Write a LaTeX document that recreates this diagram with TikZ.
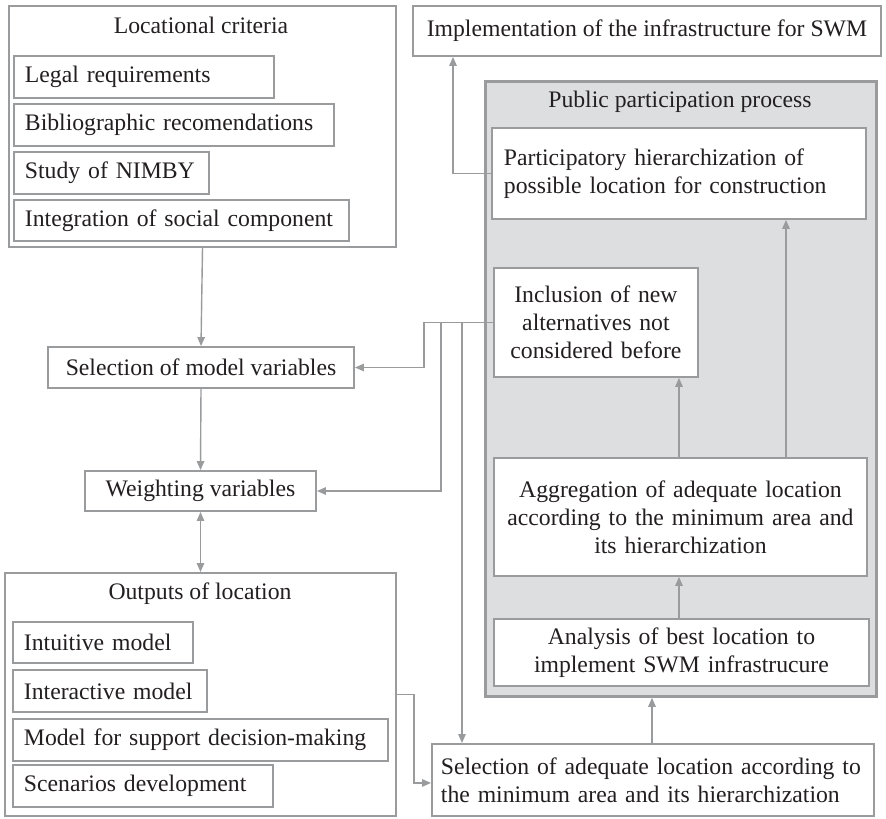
\documentclass[tikz,border=0pt]{standalone}
\usepackage{fontspec}
\setmainfont{Liberation Serif}
\usetikzlibrary{arrows.meta}
\definecolor{linegray}{HTML}{9A9B9D}
\definecolor{panelgray}{HTML}{DDDEE0}
\definecolor{ink}{HTML}{231F20}
\begin{document}
\begin{tikzpicture}[x=1pt,y=-1pt,
  every node/.style={font=\fontsize{23.7}{28}\selectfont, text=ink},
  box/.style={draw=linegray, line width=1.9pt, fill=white, inner sep=0pt, anchor=north west},
  frame/.style={box, line width=2pt},
  link/.style={draw=linegray, line width=1.4pt},
  tip/.style={-{Triangle[length=9pt,width=7.5pt]}},
  both/.style={{Triangle[length=9pt,width=7.5pt]}-{Triangle[length=9pt,width=7.5pt]}},
 ]
\useasboundingbox (0,0) rectangle (886,819);

% ---- Locational criteria group ----
\node[frame, minimum width=387, minimum height=241] (loc) at (8,5) {};
\node[anchor=base] (loctitle) at (201,33) {Locational criteria};
\node[box, minimum height=42, text width=238, inner xsep=11pt, align=left] (legal) at (13,55) {Legal requirements};
\node[box, minimum height=42, text width=298, inner xsep=11pt, align=left] (biblio) at (13,103) {Bibliographic recomendations};
\node[box, minimum height=42, text width=173, inner xsep=11pt, align=left] (nimby) at (13,151) {Study of NIMBY};
\node[box, minimum height=41, text width=313, inner xsep=11pt, align=left] (social) at (13,199) {Integration of social component};

% ---- model chain ----
\node[box, anchor=center, minimum width=306, minimum height=41] (selmodel) at (201,367.5) {Selection of model variables};
\node[box, anchor=center, minimum width=231, minimum height=40] (weight) at (200.5,491) {Weighting variables};

% ---- Outputs of location group ----
\node[frame, minimum width=391, minimum height=243] (outputs) at (4,572) {};
\node[anchor=base] (outtitle) at (200,599) {Outputs of location};
\node[box, minimum height=41, text width=158, inner xsep=11pt, align=left] (intuitive) at (12,621) {Intuitive model};
\node[box, minimum height=42, text width=172, inner xsep=11pt, align=left] (interactive) at (12,669) {Interactive model};
\node[box, minimum height=42, text width=353, inner xsep=11pt, align=left] (decision) at (12,718) {Model for support decision-making};
\node[box, minimum height=42, text width=238, inner xsep=11pt, align=left] (scenarios) at (12,764) {Scenarios development};

% ---- implementation ----
\node[box, minimum width=468, minimum height=50] (impl) at (412,5) {Implementation of the infrastructure for SWM};

% ---- Public participation process ----
\node[draw=linegray, line width=2.8pt, fill=panelgray, anchor=north west, inner sep=0pt,
      minimum width=391, minimum height=615] (ppp) at (484,80) {};
\node[anchor=base] (ppptitle) at (680,107) {Public participation process};
\node[box, minimum height=91, text width=350, inner xsep=12pt, align=left] (partic) at (491,127)
  {Participatory hierarchization of\\possible location for construction};
\node[box, minimum height=109, text width=190, inner xsep=7pt, align=center] (incl) at (493,267)
  {Inclusion of new\\alternatives not\\considered before};
\node[box, minimum height=118, text width=359, inner xsep=7pt, align=center] (agg) at (493,457)
  {Aggregation of adequate location\\according to the minimum area and\\its hierarchization};
\node[box, minimum height=67, text width=361, inner xsep=7pt, align=center] (anal) at (493,618)
  {Analysis of best location to\\implement SWM infrastrucure};

% ---- final selection ----
\node[box, minimum height=72, text width=424, inner xsep=9pt, align=left] (bsel) at (431,743)
  {Selection of adequate location according to\\the minimum area and its hierarchization};

% ---- connectors ----
\draw[link,tip] (loc.south) -- (selmodel.north);
\draw[link,tip] (selmodel.south) -- (weight.north);
\draw[link,both] (weight.south) -- (weight.south |- outputs.north);

\draw[link,tip] (incl.west) -- ++(-69,0) |- (selmodel.east);
\draw[link,tip] (incl.west) -- ++(-52,0) |- (weight.east);
\draw[link,tip] (incl.west) -| ([xshift=31pt]bsel.north west);

\draw[link,tip] (partic.west) -| ([xshift=41pt]impl.south west);
\draw[link,tip] ([xshift=186pt]agg.north west) -- ([xshift=186pt]agg.north west |- incl.south);
\draw[link,tip] ([xshift=293pt]agg.north west) -- ([xshift=293pt]agg.north west |- partic.south);
\draw[link,tip] ([xshift=186pt]anal.north west) -- ([xshift=186pt]anal.north west |- agg.south);
\draw[link,tip] ([xshift=221pt]bsel.north west) -- ([xshift=221pt]bsel.north west |- ppp.south);
\draw[link,tip] (outputs.east) -- ++(17,0) |- ([yshift=-3pt]bsel.west);
\end{tikzpicture}
\end{document}
